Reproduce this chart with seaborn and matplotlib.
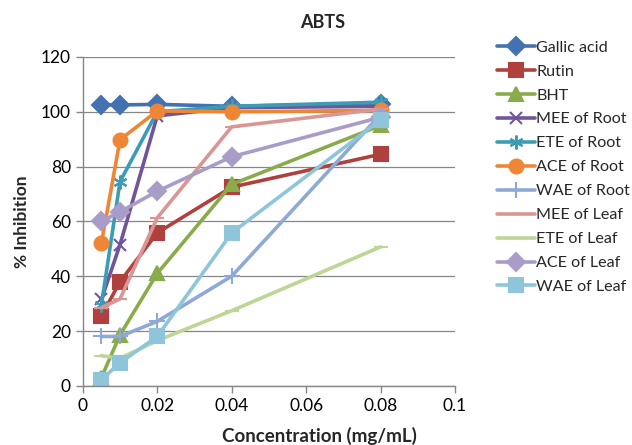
import matplotlib
matplotlib.use('Agg')
import matplotlib.pyplot as plt
import seaborn as sns
import pandas as pd

# concentrations (mg/mL)
conc = [0.005, 0.01, 0.02, 0.04, 0.08]

# % inhibition per extract / standard
gallic_acid = [102.5, 102.5, 102.7, 102.0, 103.0]
rutin = [25.5, 38.0, 55.8, 72.5, 84.5]
bht = [3.0, 18.6, 41.0, 73.5, 95.0]
mee_root = [31.5, 51.5, 98.5, 101.5, 102.0]
ete_root = [29.5, 74.5, 100.0, 102.0, 103.5]
ace_root = [52.0, 89.8, 100.3, 100.0, 100.5]
wae_root = [18.0, 18.0, 23.5, 40.0, 99.0]
mee_leaf = [28.5, 31.7, 61.3, 94.5, 101.0]
ete_leaf = [11.0, 10.0, 16.5, 27.4, 50.7]
ace_leaf = [60.0, 63.5, 71.0, 83.6, 98.0]
wae_leaf = [2.2, 8.4, 18.0, 55.8, 97.0]

names = ['Gallic acid', 'Rutin', 'BHT', 'MEE of Root', 'ETE of Root', 'ACE of Root',
         'WAE of Root', 'MEE of Leaf', 'ETE of Leaf', 'ACE of Leaf', 'WAE of Leaf']
series = [gallic_acid, rutin, bht, mee_root, ete_root, ace_root,
          wae_root, mee_leaf, ete_leaf, ace_leaf, wae_leaf]
colors = ['#4472B0', '#B0403D', '#8AAB4C', '#70559A', '#3B9DB5', '#EE8636',
          '#8FA9D6', '#D99694', '#BDD595', '#AA9CC8', '#8EC5DA']
markers = ['D', 's', '^', 'x', (6, 2, 0), 'o', '+', '_', '_', 'D', 's']
msizes = [9, 10, 10, 9, 10, 10, 11, 10, 10, 9, 10]

sns.set_style('white')
plt.rcParams['font.family'] = ['Lato', 'DejaVu Sans']

fig = plt.figure(figsize=(6.32, 4.45), dpi=100)
ax = fig.add_axes([0.131, 0.133, 0.589, 0.739])

for name, vals, c, m, ms in zip(names, series, colors, markers, msizes):
    df = pd.DataFrame({'conc': conc, 'inh': vals})
    sns.lineplot(data=df, x='conc', y='inh', ax=ax, color=c, marker=m,
                 markersize=ms, markeredgecolor=c, markeredgewidth=1.5,
                 linewidth=2.6, label=name)

ax.set_xlim(0, 0.1)
ax.set_ylim(0, 120)
ax.set_xticks([0, 0.02, 0.04, 0.06, 0.08, 0.1])
ax.set_xticklabels(['0', '0.02', '0.04', '0.06', '0.08', '0.1'])
ax.set_yticks(range(0, 121, 20))
ax.yaxis.grid(True, color='#868686', linewidth=0.9)
ax.set_axisbelow(True)
for s in ['top', 'right']:
    ax.spines[s].set_visible(False)
for s in ['left', 'bottom']:
    ax.spines[s].set_color('#868686')
    ax.spines[s].set_linewidth(1)
ax.tick_params(axis='both', labelsize=12.5, colors='#868686', labelcolor='black',
               direction='out', length=5, width=1, left=True, bottom=True)

ax.set_xlabel('Concentration (mg/mL)', fontsize=13.5, fontweight='bold')
ax.set_ylabel('% Inhibition', fontsize=12.5, fontweight='bold', labelpad=8)
ax.xaxis.set_label_coords(0.637, -0.125)
fig.text(0.51, 0.95, 'ABTS', ha='center', va='center', fontsize=13, fontweight='bold')

ax.legend(loc='upper left', bbox_to_anchor=(1.095, 1.07), frameon=False, fontsize=11.6,
          handlelength=2.35, handletextpad=0.1, labelspacing=0.6, borderaxespad=0)

fig.savefig('out.png', dpi=100)
